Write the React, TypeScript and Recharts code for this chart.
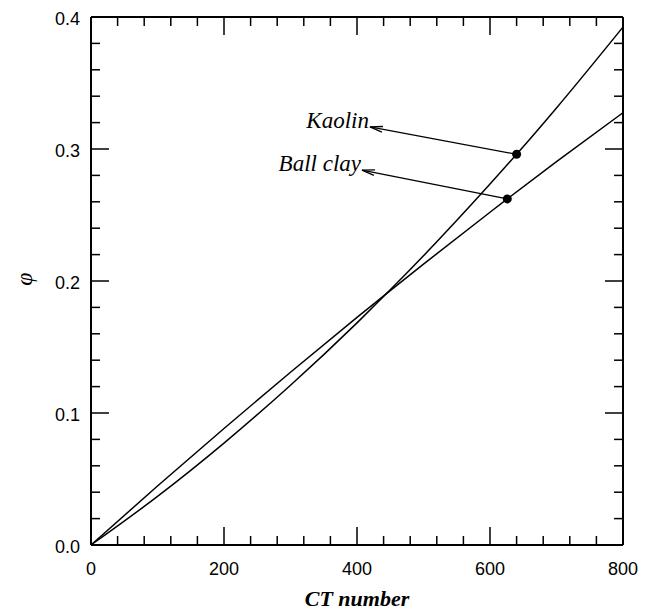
import React from "react";
import {
    LineChart, Line, XAxis, YAxis, ReferenceDot, ReferenceLine, Label
} from "recharts";

const kaolinX = [0, 100, 200, 300, 400, 450, 500, 600, 640, 700, 800];
const kaolinY = [0, 0.0368, 0.0772, 0.121, 0.1683, 0.1933, 0.2191, 0.2734, 0.296, 0.3311, 0.3924];

const ballX = [0, 100, 200, 300, 400, 450, 500, 600, 626, 700, 800];
const ballY = [0, 0.0447, 0.0883, 0.1309, 0.1724, 0.1927, 0.2128, 0.2521, 0.2622, 0.2904, 0.3275];

const xTicks = [0, 40, 80, 120, 160, 200, 240, 280, 320, 360, 400, 440, 480, 520, 560, 600, 640, 680, 720, 760, 800];
const yTicks = [0, 0.02, 0.04, 0.06, 0.08, 0.1, 0.12, 0.14, 0.16, 0.18, 0.2, 0.22, 0.24, 0.26, 0.28, 0.3, 0.32, 0.34, 0.36, 0.38, 0.4];

// annotation: [label, arrow tip x, tip y, dot x, dot y]
const notes: [string, number, number, number, number][] = [
    ["Kaolin", 419.5, 0.3167, 640, 0.296],
    ["Ball clay", 407.5, 0.284, 626, 0.2622],
];

const kaolinData = kaolinX.map((x, i) => ({ x, y: kaolinY[i] }));
const ballData = ballX.map((x, i) => ({ x, y: ballY[i] }));

const MAJOR = 18, MINOR = 9;
const sans = "'Liberation Sans', Arial, sans-serif";
const serif = "'Liberation Serif', 'Times New Roman', serif";

const tickFor = (side: "bottom" | "top" | "left" | "right") => (props: any) => {
    const { x, y, index, payload } = props;
    const major = index % 5 === 0;
    const len = major ? MAJOR : MINOR;
    let line;
    if (side === "bottom") line = <line x1={x} x2={x} y1={y} y2={y - len} />;
    else if (side === "top") line = <line x1={x} x2={x} y1={y} y2={y + len} />;
    else if (side === "left") line = <line x1={x} x2={x + len} y1={y} y2={y} />;
    else line = <line x1={x} x2={x - len} y1={y} y2={y} />;
    return (
        <g>
            <g stroke="#000" strokeWidth={1.5}>{line}</g>
            {major && side === "bottom" && (
                <text x={x} y={y + 30} textAnchor="middle" fontFamily={sans} fontSize={18} fill="#000">
                    {payload.value}
                </text>
            )}
            {major && side === "left" && (
                <text x={x - 11} y={y + 8} textAnchor="end" fontFamily={sans} fontSize={18} fill="#000">
                    {Number(payload.value).toFixed(1)}
                </text>
            )}
        </g>
    );
};

const arrowShape = (text: string) => (props: any) => {
    const { x1, y1, x2, y2 } = props;
    const dx = x2 - x1, dy = y2 - y1;
    const d = Math.sqrt(dx * dx + dy * dy) || 1;
    const ux = dx / d, uy = dy / d;
    const L = 13, a = 0.22;
    const b1x = x1 + L * (ux * Math.cos(a) - uy * Math.sin(a));
    const b1y = y1 + L * (ux * Math.sin(a) + uy * Math.cos(a));
    const b2x = x1 + L * (ux * Math.cos(-a) - uy * Math.sin(-a));
    const b2y = y1 + L * (ux * Math.sin(-a) + uy * Math.cos(-a));
    return (
        <g>
            <line x1={x1} y1={y1} x2={x2} y2={y2} stroke="#000" strokeWidth={1.3} />
            <polyline points={`${b1x},${b1y} ${x1},${y1} ${b2x},${b2y}`} fill="none" stroke="#000" strokeWidth={1.3} />
            <text x={x1 - 1} y={y1 + 1} textAnchor="end" fontFamily={serif} fontStyle="italic" fontSize={23} fill="#000">
                {text}
            </text>
        </g>
    );
};

export default function App() {
    return (
        <LineChart width={648} height={604} margin={{ top: 8, right: 32, left: 0, bottom: 0 }}>
            <XAxis
                dataKey="x" type="number" domain={[0, 800]} ticks={xTicks} interval={0}
                height={67} tickSize={0} tickMargin={0} tickLine={false}
                axisLine={{ stroke: "#000", strokeWidth: 2 }} tick={tickFor("bottom")}
            >
                <Label
                    content={(p: any) => {
                        const vb = p.viewBox;
                        return (
                            <text x={vb.x + vb.width / 2} y={vb.y + 61} textAnchor="middle" fontFamily={serif}
                                fontStyle="italic" fontWeight="bold" fontSize={22} fill="#000">
                                CT number
                            </text>
                        );
                    }}
                />
            </XAxis>
            <XAxis
                xAxisId="top" orientation="top" dataKey="x" type="number" domain={[0, 800]} ticks={xTicks} interval={0}
                height={1} tickSize={0} tickMargin={0} tickLine={false}
                axisLine={{ stroke: "#000", strokeWidth: 2 }} tick={tickFor("top")}
            />
            <YAxis
                type="number" domain={[0, 0.4]} ticks={yTicks} interval={0}
                width={83} tickSize={0} tickMargin={0} tickLine={false}
                axisLine={{ stroke: "#000", strokeWidth: 2 }} tick={tickFor("left")}
            >
                <Label
                    content={(p: any) => {
                        const vb = p.viewBox;
                        const cx = vb.x + 16, cy = vb.y + vb.height / 2 - 2;
                        return (
                            <text x={cx} y={cy} textAnchor="middle" dominantBaseline="central"
                                transform={`rotate(-90, ${cx}, ${cy})`} fontFamily={serif}
                                fontStyle="italic" fontSize={24} fill="#000">
                                φ
                            </text>
                        );
                    }}
                />
            </YAxis>
            <YAxis
                yAxisId="right" orientation="right" type="number" domain={[0, 0.4]} ticks={yTicks} interval={0}
                width={1} tickSize={0} tickMargin={0} tickLine={false}
                axisLine={{ stroke: "#000", strokeWidth: 2 }} tick={tickFor("right")}
            />
            <Line data={kaolinData} dataKey="y" type="monotone" stroke="#000" strokeWidth={1.5} dot={false} isAnimationActive={false} />
            <Line data={ballData} dataKey="y" type="monotone" stroke="#000" strokeWidth={1.5} dot={false} isAnimationActive={false} />
            {/* invisible copy so the top/right frame axes get drawn */}
            <Line data={kaolinData} xAxisId="top" yAxisId="right" dataKey="y" stroke="none" dot={false} activeDot={false} isAnimationActive={false} />
            {notes.map(([name, tx, ty, dx, dy]) => (
                <ReferenceLine key={name} segment={[{ x: tx, y: ty }, { x: dx, y: dy }]} shape={arrowShape(name)} />
            ))}
            {notes.map(([name, , , dx, dy]) => (
                <ReferenceDot key={"d" + name} x={dx} y={dy} r={4.5} fill="#000" stroke="none" />
            ))}
        </LineChart>
    );
}
